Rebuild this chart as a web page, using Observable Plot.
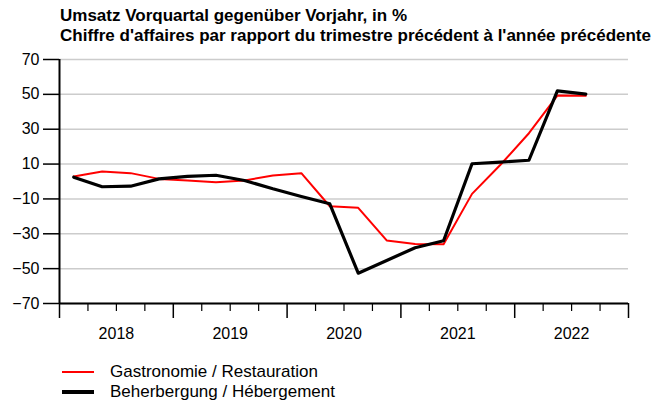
<!DOCTYPE html>
<html>
<head>
<meta charset="utf-8">
<script src="https://cdn.jsdelivr.net/npm/d3@7"></script>
<script src="https://cdn.jsdelivr.net/npm/@observablehq/plot@0.6"></script>
<style>
  body { margin: 0; background: white; font-family: "Liberation Sans", Arial, sans-serif; }
  #title { height: 50px; box-sizing: border-box; padding: 6px 0 0 60px; font-weight: bold; font-size: 17px; line-height: 19.5px; color: #000; white-space: nowrap; }
  #chart svg { display: block; }
  #legend { position: relative; height: 50px; font-size: 17px; }
  .item { position: absolute; left: 62px; height: 20px; }
  .sw { position: absolute; left: 0; width: 32px; }
  .lab { position: absolute; left: 48px; white-space: nowrap; line-height: 20px; top: -10px; }
</style>
</head>
<body>
<div id="title">Umsatz Vorquartal gegenüber Vorjahr, in %<br>Chiffre d'affaires par rapport du trimestre précédent à l'année précédente</div>
<div id="chart"></div>
<div id="legend"></div>
<script>
const quarters = ["2018Q1","2018Q2","2018Q3","2018Q4","2019Q1","2019Q2","2019Q3","2019Q4",
  "2020Q1","2020Q2","2020Q3","2020Q4","2021Q1","2021Q2","2021Q3","2021Q4","2022Q1","2022Q2","2022Q3"];
const gastro = [2.9, 5.7, 4.8, 1.5, 0.6, -0.4, 0.6, 3.4, 4.8, -14.2, -15.1, -33.8, -35.8, -36.0, -7.1, 9.6, 27.7, 49.3, 49.2];
const beher = [2.5, -3.0, -2.7, 1.5, 2.9, 3.6, 0.6, -4.2, -8.6, -12.8, -52.6, -45.3, -38.0, -34.0, 10.2, 11.1, 12.2, 52.0, 50.1];
const years = [2018, 2019, 2020, 2021, 2022];
const yTicks = [-70, -50, -30, -10, 10, 30, 50, 70];
const seriesNames = ["Gastronomie / Restauration", "Beherbergung / Hébergement"];
const seriesColors = ["red", "black"];

const qpos = q => +q.slice(0, 4) + (+q.slice(5) - 0.5) / 4;
const dataG = quarters.map((q, i) => ({x: qpos(q), y: gastro[i]}));
const dataB = quarters.map((q, i) => ({x: qpos(q), y: beher[i]}));
const yearBounds = [...years, years[years.length - 1] + 1];
const quarterBounds = years.flatMap(y => [y + 0.25, y + 0.5, y + 0.75]);
const yearCenters = years.map(y => y + 0.5);

const chart = Plot.plot({
  width: 665, height: 306,
  marginTop: 9, marginBottom: 53, marginLeft: 59, marginRight: 37,
  style: {fontFamily: "'Liberation Sans', Arial, sans-serif", fontSize: "16px", color: "black", background: "white", overflow: "visible"},
  x: {domain: [yearBounds[0], yearBounds[yearBounds.length - 1]]},
  y: {domain: [-70, 70]},
  marks: [
    Plot.gridY(yTicks, {stroke: "#cccccc", strokeOpacity: 1, strokeWidth: 1.5}),
    Plot.axisY(yTicks, {tickSize: 16, tickPadding: 4, strokeWidth: 1.5, label: null}),
    Plot.axisX(yearBounds, {tickSize: 15, tickFormat: () => "", strokeWidth: 1.5, label: null}),
    Plot.axisX(quarterBounds, {tickSize: 8, tickFormat: () => "", strokeWidth: 1.2, label: null}),
    Plot.axisX(yearCenters, {tickSize: 0, tickPadding: 24, tickFormat: d => String(Math.floor(d)), label: null}),
    Plot.ruleX([yearBounds[0]], {stroke: "black", strokeWidth: 2}),
    Plot.ruleY([-70], {stroke: "black", strokeWidth: 2}),
    Plot.line(dataG, {x: "x", y: "y", stroke: seriesColors[0], strokeWidth: 2}),
    Plot.line(dataB, {x: "x", y: "y", stroke: seriesColors[1], strokeWidth: 3.2})
  ]
});
document.getElementById("chart").append(chart);

const legend = document.getElementById("legend");
seriesNames.forEach((name, i) => {
  const item = document.createElement("div");
  item.className = "item";
  item.style.top = (16 + i * 20) + "px";
  const sw = document.createElement("div");
  sw.className = "sw";
  const h = i === 0 ? 2 : 3.5;
  sw.style.height = h + "px";
  sw.style.top = (-h / 2) + "px";
  sw.style.background = seriesColors[i];
  const lab = document.createElement("div");
  lab.className = "lab";
  lab.textContent = name;
  item.append(sw, lab);
  legend.append(item);
});
</script>
</body>
</html>
